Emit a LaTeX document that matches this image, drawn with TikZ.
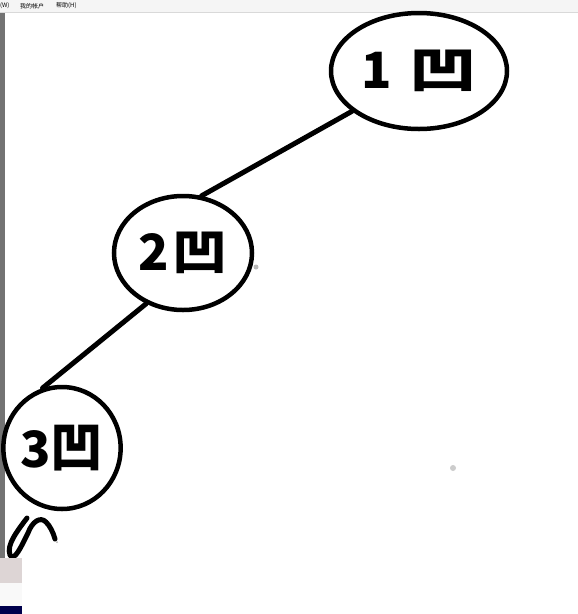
\documentclass[tikz,border=0pt]{standalone}
\usepackage{fontspec}
\newfontfamily\cjk{Noto Sans CJK SC}
\usetikzlibrary{shapes.geometric}

\tikzset{
  inkloop/.style={draw, ellipse, line width=4.5pt, inner sep=0pt},
  inkline/.style={line width=5pt, line cap=round},
  inktext/.style={font=\cjk\bfseries\fontsize{50}{50}\selectfont}
}

\begin{document}
\begin{tikzpicture}[x=1pt, y=-1pt]
        \useasboundingbox (0,0) rectangle (578,614);
        \fill[white] (0,0) rectangle (578,614);

        % ---- menu strip and window edge ----
        \fill[gray!8] (0,0) rectangle (578,12);
        \draw[gray!30] (0,12) -- (578,12);
        \node[font=\cjk\fontsize{6}{6}\selectfont, anchor=west, inner sep=0pt] (menuw) at (0,6) {(W)};
        \node[font=\cjk\fontsize{6}{6}\selectfont, anchor=west, inner sep=0pt] (menua) at (20,6) {我的帐户};
        \node[font=\cjk\fontsize{6}{6}\selectfont, anchor=west, inner sep=0pt] (menuh) at (56,6) {帮助(H)};
        \fill[black!55] (0,13) rectangle (5,558);

        % ---- tree nodes ----
        \node[inkloop, minimum width=176pt, minimum height=116pt, inktext] (n1) at (419,71) {1\hspace{18pt}\scalebox{1.35}[1]{凹}};
        \node[inkloop, minimum width=138pt, minimum height=114pt, inktext] (n2) at (183,253) {2\hspace{3pt}\scalebox{1.1}[1]{凹}};
        \node[inkloop, minimum width=110pt, minimum height=122pt, inktext] (n3) at (62,448) {3\scalebox{1.05}[1.1]{凹}};

        % ---- connectors ----
        \draw[inkline] (n1.211) -- (n2.72);
        \draw[inkline] (n2.234) -- (n3.108);

        % ---- loose stroke below node 3 ----
        \draw[line width=5pt, line cap=round, line join=round]
            (27,518) .. controls (18,530) and (6,545) .. (10,555)
            .. controls (14,563) and (22,545) .. (28,533)
            .. controls (32,522) and (40,516) .. (46,522)
            .. controls (50,526) and (53,532) .. (55,539);

        % ---- stray dots ----
        \fill[gray!55] (256,267) circle (2.5pt);
        \fill[gray!40] (453,468) circle (3pt);
        \fill[gray!60] (57,542) circle (1pt);

        % ---- corner thumbnail ----
        \fill[red!10!gray!30] (0,558) rectangle (22,583);
        \fill[gray!5] (0,583) rectangle (22,606);
        \fill[blue!30!black] (0,606) rectangle (22,614);
    \end{tikzpicture}
\end{document}
